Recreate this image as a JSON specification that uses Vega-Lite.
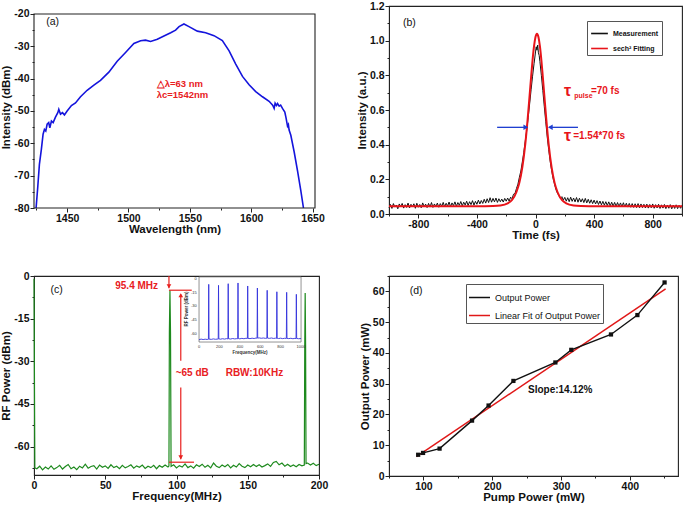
{
  "$schema": "https://vega.github.io/schema/vega-lite/v6.json",
  "background": "white",
  "padding": {"left": 0, "top": 0, "right": 0, "bottom": 0},
  "columns": 2,
  "spacing": {"row": 28, "column": 26},
  "resolve": {"scale": {"color": "independent"}, "legend": {"color": "independent"}},
  "config": {
    "font": "Liberation Sans",
    "view": {"stroke": "#222", "strokeWidth": 1.1},
    "axis": {"labelFont": "Liberation Sans", "labelFontWeight": "bold", "labelFontSize": 10.5, "labelColor": "#111", "titleFont": "Liberation Sans", "titleFontWeight": "bold", "titleFontSize": 11.5, "titleColor": "#111", "domainColor": "#222", "tickColor": "#222", "grid": false, "labelPadding": 1, "titlePadding": 2, "labelOverlap": false, "labelFlush": false, "labelBound": false, "tickCount": 100},
    "axisX": {"titlePadding": 0},
    "text": {"font": "Liberation Sans"}
  },
  "concat": [
    {
      "width": 281, "height": 202,
      "view": {"stroke": null},
      "layer": [
        {
          "data": {"values": [
            {"w":1424.7,"p":-80},{"w":1426,"p":-73.8},{"w":1427.4,"p":-66.5},{"w":1429,"p":-61.9},{"w":1430.4,"p":-57.2},{"w":1431.5,"p":-55.7},{"w":1432.6,"p":-56.2},{"w":1433.7,"p":-54.1},{"w":1435,"p":-53.6},{"w":1435.9,"p":-55.2},{"w":1437.2,"p":-53.1},{"w":1438.6,"p":-53.6},{"w":1440.5,"p":-51.9},{"w":1442.4,"p":-50.5},{"w":1443.2,"p":-49.5},{"w":1444.6,"p":-51},{"w":1446.2,"p":-50.5},{"w":1447.8,"p":-51.2},{"w":1450,"p":-50},{"w":1453.5,"p":-48.3},{"w":1456.8,"p":-47.5},{"w":1460.9,"p":-45.6},{"w":1466.3,"p":-43.6},{"w":1471.8,"p":-42},{"w":1477.2,"p":-40.5},{"w":1484,"p":-38},{"w":1490.8,"p":-34.6},{"w":1497.6,"p":-31.9},{"w":1504.4,"p":-29.1},{"w":1509.9,"p":-28.3},{"w":1513.9,"p":-28.1},{"w":1518,"p":-28.5},{"w":1523.5,"p":-27.8},{"w":1528.9,"p":-26.8},{"w":1534.4,"p":-25.8},{"w":1538.4,"p":-25},{"w":1541.2,"p":-23.9},{"w":1545.2,"p":-23.1},{"w":1549.3,"p":-23.9},{"w":1556.1,"p":-25.3},{"w":1562.9,"p":-25.8},{"w":1569.7,"p":-26.7},{"w":1576.5,"p":-28.2},{"w":1582,"p":-31.4},{"w":1587.4,"p":-35.5},{"w":1592.9,"p":-39.3},{"w":1598.3,"p":-41.9},{"w":1603.7,"p":-44},{"w":1609.2,"p":-45.6},{"w":1614.6,"p":-47},{"w":1617.5,"p":-48.2},{"w":1618.7,"p":-49.2},{"w":1619.5,"p":-47.6},{"w":1620.6,"p":-48.3},{"w":1621.5,"p":-47.7},{"w":1622.8,"p":-48.5},{"w":1624,"p":-48.2},{"w":1625.5,"p":-49.2},{"w":1627.4,"p":-50.3},{"w":1628.4,"p":-52.1},{"w":1629.6,"p":-54.7},{"w":1630.3,"p":-54.2},{"w":1630.9,"p":-55.9},{"w":1632.3,"p":-57.5},{"w":1635,"p":-62.6},{"w":1637.8,"p":-68.6},{"w":1640.5,"p":-74.8},{"w":1642.6,"p":-80}
          ]},
          "mark": {"type": "line", "color": "#1414dc", "strokeWidth": 1.6},
          "encoding": {
            "x": {"field": "w", "type": "quantitative", "scale": {"domain": [1423, 1652], "nice": false, "zero": false},
              "axis": {"title": "Wavelength (nm)", "domain": false, "tickCount": 100, "labelOverlap": false, "values": [1425,1450,1475,1500,1525,1550,1575,1600,1625,1650], "format": "d", "labelExpr": "datum.value % 50 === 0 ? datum.label : ''", "tickSize": {"condition": {"test": "datum.value % 50 === 0", "value": 4}, "value": 2}}},
            "y": {"field": "p", "type": "quantitative", "scale": {"domain": [-80, -17.53], "nice": false, "zero": false},
              "axis": {"title": "Intensity (dBm)", "domain": false, "tickCount": 100, "labelOverlap": false, "values": [-80,-75,-70,-65,-60,-55,-50,-45,-40,-35,-30,-25,-20], "format": "d", "labelExpr": "datum.value % 10 === 0 ? replace(datum.label, '\u2212', '-') : ''", "tickSize": {"condition": {"test": "datum.value % 10 === 0", "value": 4}, "value": 2}}}
          }
        },
        {
          "data": {"values": [{"w":1523,"p":-41.5,"t":"△λ=63 nm"},{"w":1523,"p":-45.2,"t":"λc=1542nm"}]},
          "mark": {"type": "text", "align": "left", "baseline": "middle", "color": "#e8201e", "fontWeight": "bold", "fontSize": 9.5},
          "encoding": {"x": {"field": "w", "type": "quantitative"}, "y": {"field": "p", "type": "quantitative"}, "text": {"field": "t"}}
        },
        {
          "data": {"values": [{"w":1433,"p":-22.6,"t":"(a)"}]},
          "mark": {"type": "text", "align": "left", "baseline": "middle", "color": "#111", "fontSize": 10.5},
          "encoding": {"x": {"field": "w", "type": "quantitative"}, "y": {"field": "p", "type": "quantitative"}, "text": {"field": "t"}}
        },
        {
          "data": {"values": [{"x1":1423,"x2":1652,"y1":-80,"y2":-20}]},
          "mark": {"type": "rect", "fill": "transparent", "stroke": "#222", "strokeWidth": 1.1},
          "encoding": {"x": {"field": "x1", "type": "quantitative"}, "x2": {"field": "x2"}, "y": {"field": "y1", "type": "quantitative"}, "y2": {"field": "y2"}}
        }
      ]
    },
    {
      "width": 293, "height": 208,
      "layer": [
        {
          "data": {"values": [
            {"t":-1000,"v":0.036},{"t":-990,"v":0.055},{"t":-980,"v":0.032},{"t":-970,"v":0.06},{"t":-960,"v":0.04},{"t":-950,"v":0.052},{"t":-940,"v":0.03},{"t":-930,"v":0.058},{"t":-920,"v":0.042},{"t":-910,"v":0.061},{"t":-900,"v":0.034},{"t":-890,"v":0.054},{"t":-880,"v":0.038},{"t":-870,"v":0.063},{"t":-860,"v":0.035},{"t":-850,"v":0.056},{"t":-840,"v":0.041},{"t":-830,"v":0.059},{"t":-820,"v":0.033},{"t":-810,"v":0.062},{"t":-800,"v":0.039},{"t":-790,"v":0.055},{"t":-780,"v":0.036},{"t":-770,"v":0.064},{"t":-760,"v":0.042},{"t":-750,"v":0.057},{"t":-740,"v":0.037},{"t":-730,"v":0.061},{"t":-720,"v":0.04},{"t":-710,"v":0.066},{"t":-700,"v":0.038},{"t":-690,"v":0.058},{"t":-680,"v":0.043},{"t":-670,"v":0.063},{"t":-660,"v":0.039},{"t":-650,"v":0.06},{"t":-640,"v":0.045},{"t":-630,"v":0.067},{"t":-620,"v":0.041},{"t":-610,"v":0.062},{"t":-600,"v":0.046},{"t":-590,"v":0.069},{"t":-580,"v":0.043},{"t":-570,"v":0.064},{"t":-560,"v":0.048},{"t":-550,"v":0.07},{"t":-540,"v":0.045},{"t":-530,"v":0.066},{"t":-520,"v":0.05},{"t":-510,"v":0.072},{"t":-500,"v":0.047},{"t":-490,"v":0.068},{"t":-480,"v":0.052},{"t":-470,"v":0.074},{"t":-460,"v":0.049},{"t":-450,"v":0.071},{"t":-440,"v":0.054},{"t":-430,"v":0.077},{"t":-420,"v":0.051},{"t":-410,"v":0.073},{"t":-400,"v":0.056},{"t":-390,"v":0.08},{"t":-380,"v":0.058},{"t":-370,"v":0.078},{"t":-360,"v":0.061},{"t":-350,"v":0.085},{"t":-340,"v":0.063},{"t":-330,"v":0.088},{"t":-320,"v":0.066},{"t":-310,"v":0.094},{"t":-300,"v":0.068},{"t":-290,"v":0.09},{"t":-280,"v":0.07},{"t":-270,"v":0.092},{"t":-260,"v":0.067},{"t":-250,"v":0.088},{"t":-240,"v":0.071},{"t":-230,"v":0.086},{"t":-220,"v":0.069},{"t":-210,"v":0.09},{"t":-200,"v":0.074},
            {"t":-190,"v":0.092},{"t":-180,"v":0.074},{"t":-170,"v":0.097},{"t":-160,"v":0.088},{"t":-150,"v":0.114},{"t":-140,"v":0.118},{"t":-130,"v":0.147},{"t":-120,"v":0.172},{"t":-110,"v":0.212},{"t":-100,"v":0.248},{"t":-90,"v":0.3},{"t":-80,"v":0.355},{"t":-70,"v":0.42},{"t":-60,"v":0.482},{"t":-50,"v":0.557},{"t":-40,"v":0.635},{"t":-30,"v":0.717},{"t":-20,"v":0.795},{"t":-10,"v":0.867},{"t":-5,"v":0.9},{"t":0,"v":0.935},{"t":5,"v":0.965},{"t":10,"v":0.945},{"t":15,"v":0.975},{"t":20,"v":0.93},{"t":25,"v":0.915},{"t":30,"v":0.88},{"t":40,"v":0.8},{"t":50,"v":0.712},{"t":60,"v":0.62},{"t":70,"v":0.532},{"t":80,"v":0.445},{"t":90,"v":0.372},{"t":100,"v":0.305},{"t":110,"v":0.252},{"t":120,"v":0.205},{"t":130,"v":0.172},{"t":140,"v":0.14},{"t":150,"v":0.12},{"t":160,"v":0.106},{"t":170,"v":0.09},{"t":180,"v":0.1},{"t":190,"v":0.08},
            {"t":200,"v":0.096},{"t":210,"v":0.074},{"t":220,"v":0.094},{"t":230,"v":0.071},{"t":240,"v":0.097},{"t":250,"v":0.073},{"t":260,"v":0.092},{"t":270,"v":0.07},{"t":280,"v":0.095},{"t":290,"v":0.068},{"t":300,"v":0.091},{"t":310,"v":0.069},{"t":320,"v":0.088},{"t":330,"v":0.066},{"t":340,"v":0.09},{"t":350,"v":0.064},{"t":360,"v":0.085},{"t":370,"v":0.062},{"t":380,"v":0.082},{"t":390,"v":0.06},{"t":400,"v":0.08},{"t":410,"v":0.058},{"t":420,"v":0.077},{"t":430,"v":0.055},{"t":440,"v":0.075},{"t":450,"v":0.053},{"t":460,"v":0.073},{"t":470,"v":0.051},{"t":480,"v":0.071},{"t":490,"v":0.049},{"t":500,"v":0.07},{"t":510,"v":0.047},{"t":520,"v":0.068},{"t":530,"v":0.046},{"t":540,"v":0.067},{"t":550,"v":0.044},{"t":560,"v":0.066},{"t":570,"v":0.043},{"t":580,"v":0.064},{"t":590,"v":0.042},{"t":600,"v":0.065},{"t":610,"v":0.041},{"t":620,"v":0.062},{"t":630,"v":0.04},{"t":640,"v":0.061},{"t":650,"v":0.039},{"t":660,"v":0.06},{"t":670,"v":0.038},{"t":680,"v":0.059},{"t":690,"v":0.037},{"t":700,"v":0.06},{"t":710,"v":0.036},{"t":720,"v":0.058},{"t":730,"v":0.037},{"t":740,"v":0.056},{"t":750,"v":0.035},{"t":760,"v":0.057},{"t":770,"v":0.034},{"t":780,"v":0.055},{"t":790,"v":0.036},{"t":800,"v":0.058},{"t":810,"v":0.033},{"t":820,"v":0.054},{"t":830,"v":0.035},{"t":840,"v":0.056},{"t":850,"v":0.032},{"t":860,"v":0.053},{"t":870,"v":0.034},{"t":880,"v":0.055},{"t":890,"v":0.031},{"t":900,"v":0.052},{"t":910,"v":0.033},{"t":920,"v":0.054},{"t":930,"v":0.03},{"t":940,"v":0.051},{"t":950,"v":0.032},{"t":960,"v":0.053},{"t":970,"v":0.031},{"t":980,"v":0.05},{"t":990,"v":0.033},{"t":1000,"v":0.049}
          ]},
          "mark": {"type": "line", "strokeWidth": 1},
          "encoding": {
            "x": {"field": "t", "type": "quantitative", "scale": {"domain": [-1000, 1000], "nice": false, "zero": false},
              "axis": {"title": "Time (fs)", "tickCount": 100, "labelOverlap": false, "values": [-1000,-800,-600,-400,-200,0,200,400,600,800,1000], "format": "d", "labelExpr": "datum.value % 400 === 0 ? replace(datum.label, '\u2212', '-') : ''", "tickSize": {"condition": {"test": "datum.value % 400 === 0", "value": 4}, "value": 2}}},
            "y": {"field": "v", "type": "quantitative", "scale": {"domain": [0, 1.2], "nice": false, "zero": false},
              "axis": {"title": "Intensity (a.u.)", "tickCount": 100, "labelOverlap": false, "values": [0,0.1,0.2,0.3,0.4,0.5,0.6,0.7,0.8,0.9,1.0,1.1,1.2], "format": ".1f", "labelExpr": "round(datum.value*10) % 2 === 0 ? datum.label : ''", "tickSize": {"condition": {"test": "round(datum.value*10) % 2 === 0", "value": 4}, "value": 2}}},
            "color": {"datum": "Measurement", "type": "nominal", "scale": {"domain": ["Measurement", "sech² Fitting"], "range": ["#111111", "#e8141a"]},
              "legend": {"orient": "none", "legendX": 198, "legendY": 15, "title": null, "symbolType": "stroke", "symbolStrokeWidth": 1.6, "symbolSize": 280, "labelFontSize": 7, "labelFontWeight": "bold", "labelFont": "Liberation Sans", "labelColor": "#111", "strokeColor": "#555", "fillColor": "white", "padding": 3, "rowPadding": 2}}
          }
        },
        {
          "data": {"values": [
            {"t":-1000,"v":0.045},{"t":-400,"v":0.045},{"t":-290,"v":0.046},{"t":-240,"v":0.049},{"t":-190,"v":0.061},{"t":-160,"v":0.081},{"t":-130,"v":0.127},{"t":-110,"v":0.181},{"t":-90,"v":0.269},{"t":-70,"v":0.401},{"t":-54,"v":0.543},{"t":-40,"v":0.686},{"t":-30,"v":0.79},{"t":-20,"v":0.888},{"t":-10,"v":0.968},{"t":0,"v":1.021},{"t":10,"v":1.04},{"t":20,"v":1.021},{"t":30,"v":0.968},{"t":40,"v":0.888},{"t":50,"v":0.79},{"t":60,"v":0.686},{"t":74,"v":0.543},{"t":90,"v":0.401},{"t":110,"v":0.269},{"t":130,"v":0.181},{"t":150,"v":0.127},{"t":180,"v":0.081},{"t":210,"v":0.061},{"t":260,"v":0.049},{"t":310,"v":0.046},{"t":420,"v":0.045},{"t":1000,"v":0.045}
          ]},
          "mark": {"type": "line", "strokeWidth": 2, "interpolate": "monotone"},
          "encoding": {
            "x": {"field": "t", "type": "quantitative"},
            "y": {"field": "v", "type": "quantitative"},
            "color": {"datum": "sech² Fitting", "type": "nominal"}
          }
        },
        {
          "data": {"values": [{"t1":-262,"t2":-60,"v":0.5},{"t1":290,"t2":95,"v":0.5}]},
          "mark": {"type": "rule", "color": "#1f3fd0", "strokeWidth": 1.3},
          "encoding": {"x": {"field": "t1", "type": "quantitative"}, "x2": {"field": "t2"}, "y": {"field": "v", "type": "quantitative"}}
        },
        {
          "data": {"values": [{"t":-66,"v":0.5}]},
          "mark": {"type": "point", "shape": "triangle-right", "filled": true, "color": "#1f3fd0", "size": 30, "opacity": 1},
          "encoding": {"x": {"field": "t", "type": "quantitative"}, "y": {"field": "v", "type": "quantitative"}}
        },
        {
          "data": {"values": [{"t":101,"v":0.5}]},
          "mark": {"type": "point", "shape": "triangle-left", "filled": true, "color": "#1f3fd0", "size": 30, "opacity": 1},
          "encoding": {"x": {"field": "t", "type": "quantitative"}, "y": {"field": "v", "type": "quantitative"}}
        },
        {
          "data": {"values": [{"t":195,"v":0.712,"s":"τ"},{"t":195,"v":0.452,"s":"τ"}]},
          "mark": {"type": "text", "align": "left", "baseline": "middle", "color": "#e8141a", "fontWeight": "bold", "fontSize": 16},
          "encoding": {"x": {"field": "t", "type": "quantitative"}, "y": {"field": "v", "type": "quantitative"}, "text": {"field": "s"}}
        },
        {
          "data": {"values": [{"t":265,"v":0.683,"s":"pulse"}]},
          "mark": {"type": "text", "align": "left", "baseline": "middle", "color": "#e8141a", "fontWeight": "bold", "fontSize": 7},
          "encoding": {"x": {"field": "t", "type": "quantitative"}, "y": {"field": "v", "type": "quantitative"}, "text": {"field": "s"}}
        },
        {
          "data": {"values": [{"t":378,"v":0.708,"s":"=70 fs"},{"t":257,"v":0.45,"s":"=1.54*70 fs"}]},
          "mark": {"type": "text", "align": "left", "baseline": "middle", "color": "#e8141a", "fontWeight": "bold", "fontSize": 10},
          "encoding": {"x": {"field": "t", "type": "quantitative"}, "y": {"field": "v", "type": "quantitative"}, "text": {"field": "s"}}
        },
        {
          "data": {"values": [{"t":-905,"v":1.1,"s":"(b)"}]},
          "mark": {"type": "text", "align": "left", "baseline": "middle", "color": "#111", "fontSize": 10.5},
          "encoding": {"x": {"field": "t", "type": "quantitative"}, "y": {"field": "v", "type": "quantitative"}, "text": {"field": "s"}}
        }
      ]
    },
    {
      "width": 285, "height": 199,
      "layer": [
        {
          "layer": [
            {
              "data": {"values": [
                {"f":0,"v":-1},{"f":0.6,"v":-67.5},{"f":2,"v":-67.8},{"f":4,"v":-66.9},{"f":6,"v":-68.2},{"f":8,"v":-67.2},{"f":10,"v":-67.9},{"f":12,"v":-66.8},{"f":14,"v":-68},{"f":16,"v":-67.4},{"f":18,"v":-66.6},{"f":20,"v":-67.9},{"f":22,"v":-67},{"f":24,"v":-66.3},{"f":26,"v":-67.8},{"f":28,"v":-67.2},{"f":30,"v":-68.1},{"f":32,"v":-66.9},{"f":34,"v":-67.5},{"f":36,"v":-66.2},{"f":38,"v":-67.6},{"f":40,"v":-67},{"f":42,"v":-66.7},{"f":44,"v":-67.9},{"f":46,"v":-66.5},{"f":48,"v":-67.3},{"f":50,"v":-66.8},{"f":52,"v":-67.7},{"f":54,"v":-66.4},{"f":56,"v":-67.4},{"f":58,"v":-66.9},{"f":60,"v":-67.8},{"f":62,"v":-66.6},{"f":64,"v":-67.5},{"f":66,"v":-67},{"f":68,"v":-66.4},{"f":70,"v":-67.6},{"f":72,"v":-66.8},{"f":74,"v":-67.3},{"f":76,"v":-66.5},{"f":78,"v":-67.7},{"f":80,"v":-66.9},{"f":82,"v":-67.4},{"f":84,"v":-66.6},{"f":86,"v":-67.8},{"f":88,"v":-66.7},{"f":90,"v":-67.3},{"f":92,"v":-66.5},{"f":94,"v":-67.2},{"f":94.7,"v":-66.8},{"f":95,"v":-20},{"f":95.4,"v":-5},{"f":95.8,"v":-20},{"f":96.2,"v":-67},{"f":98,"v":-66.4},{"f":100,"v":-67.5},{"f":102,"v":-66.7},{"f":104,"v":-67.2},{"f":106,"v":-66.1},{"f":108,"v":-67.4},{"f":110,"v":-66.8},{"f":112,"v":-67.6},{"f":114,"v":-66.4},{"f":116,"v":-67},{"f":118,"v":-66.2},{"f":120,"v":-67.3},{"f":122,"v":-66.6},{"f":124,"v":-67.5},{"f":126,"v":-65.8},{"f":128,"v":-66.9},{"f":130,"v":-67.4},{"f":132,"v":-66.5},{"f":134,"v":-67.1},{"f":136,"v":-66.3},{"f":138,"v":-67.5},{"f":140,"v":-66.6},{"f":142,"v":-67.2},{"f":144,"v":-66},{"f":146,"v":-66.9},{"f":148,"v":-67.4},{"f":150,"v":-66.5},{"f":152,"v":-67.1},{"f":154,"v":-66.3},{"f":156,"v":-67},{"f":158,"v":-66.4},{"f":160,"v":-67.2},{"f":162,"v":-66.7},{"f":164,"v":-66.1},{"f":166,"v":-67},{"f":168,"v":-65.6},{"f":170,"v":-65.2},{"f":172,"v":-66.4},{"f":174,"v":-65.8},{"f":176,"v":-66.9},{"f":178,"v":-66.2},{"f":180,"v":-67},{"f":182,"v":-66.5},{"f":184,"v":-67.1},{"f":186,"v":-66.3},{"f":188,"v":-66.8},{"f":189.7,"v":-66.5},{"f":190,"v":-25},{"f":190.3,"v":-6},{"f":190.6,"v":-25},{"f":190.9,"v":-66},{"f":192,"v":-65.8},{"f":194,"v":-66.5},{"f":196,"v":-65.9},{"f":198,"v":-66.7},{"f":200,"v":-66.2}
              ]},
              "mark": {"type": "line", "color": "#1e8a1e", "strokeWidth": 1.2},
              "encoding": {
                "x": {"field": "f", "type": "quantitative", "scale": {"domain": [0, 200], "nice": false, "zero": false},
                  "axis": {"title": "Frequency(MHz)", "tickCount": 100, "labelOverlap": false, "values": [0,25,50,75,100,125,150,175,200], "format": "d", "labelExpr": "datum.value % 50 === 0 ? datum.label : ''", "tickSize": {"condition": {"test": "datum.value % 50 === 0", "value": 4}, "value": 2}}},
                "y": {"field": "v", "type": "quantitative", "scale": {"domain": [-70, 0], "nice": false, "zero": false},
                  "axis": {"title": "RF Power (dBm)", "tickCount": 100, "labelOverlap": false, "values": [-67.5,-60,-52.5,-45,-37.5,-30,-22.5,-15,-7.5,0], "format": "d", "labelExpr": "datum.value % 15 === 0 ? replace(datum.label, '\u2212', '-') : ''", "tickSize": {"condition": {"test": "datum.value % 15 === 0", "value": 4}, "value": 2}}}
              }
            },
            {
              "data": {"values": [{"f":94.7,"a":0,"b":-4.3},{"f":103,"a":-6.5,"b":-29.8},{"f":103,"a":-39.2,"b":-64.5}]},
              "mark": {"type": "rule", "color": "#e8201e", "strokeWidth": 1.2},
              "encoding": {"x": {"field": "f", "type": "quantitative"}, "y": {"field": "a", "type": "quantitative"}, "y2": {"field": "b"}}
            },
            {
              "data": {"values": [{"f1":94.7,"f2":110.7,"v":-5},{"f1":94.7,"f2":112.3,"v":-65.5}]},
              "mark": {"type": "rule", "color": "#e8201e", "strokeWidth": 1.2},
              "encoding": {"x": {"field": "f1", "type": "quantitative"}, "x2": {"field": "f2"}, "y": {"field": "v", "type": "quantitative"}}
            },
            {
              "data": {"values": [{"f":94.7,"v":-3.6},{"f":103,"v":-63.8}]},
              "mark": {"type": "point", "shape": "triangle-down", "filled": true, "color": "#e8201e", "size": 22, "opacity": 1},
              "encoding": {"x": {"field": "f", "type": "quantitative"}, "y": {"field": "v", "type": "quantitative"}}
            },
            {
              "data": {"values": [{"f":103,"v":-6.8}]},
              "mark": {"type": "point", "shape": "triangle-up", "filled": true, "color": "#e8201e", "size": 22, "opacity": 1},
              "encoding": {"x": {"field": "f", "type": "quantitative"}, "y": {"field": "v", "type": "quantitative"}}
            },
            {
              "data": {"values": [{"f":57,"v":-3.6,"s":"95.4 MHz"},{"f":99.4,"v":-34.2,"s":"~65 dB"},{"f":134.5,"v":-34.2,"s":"RBW:10KHz"}]},
              "mark": {"type": "text", "align": "left", "baseline": "middle", "color": "#e8201e", "fontWeight": "bold", "fontSize": 10},
              "encoding": {"x": {"field": "f", "type": "quantitative"}, "y": {"field": "v", "type": "quantitative"}, "text": {"field": "s"}}
            },
            {
              "data": {"values": [{"f":11.5,"v":-4.8,"s":"(c)"}]},
              "mark": {"type": "text", "align": "left", "baseline": "middle", "color": "#111", "fontSize": 10.5},
              "encoding": {"x": {"field": "f", "type": "quantitative"}, "y": {"field": "v", "type": "quantitative"}, "text": {"field": "s"}}
            }
          ]
        },
        {
          "layer": [
            {
              "data": {"values": [{"f1":0,"f2":1000,"v1":-69,"v2":2}]},
              "mark": {"type": "rect", "fill": "white", "stroke": "#777", "strokeWidth": 0.8},
              "encoding": {
                "x": {"field": "f1", "type": "quantitative", "scale": {"domain": [-1618, 1176], "nice": false, "zero": false}, "axis": null},
                "x2": {"field": "f2"},
                "y": {"field": "v1", "type": "quantitative", "scale": {"domain": [-214, 3], "nice": false, "zero": false}, "axis": null},
                "y2": {"field": "v2"}
              }
            },
            {
              "data": {"values": [
                {"f":0,"v":-66.5},{"f":20,"v":-65.8},{"f":40,"v":-66.3},{"f":60,"v":-65.9},{"f":80,"v":-66.2},{"f":92,"v":-66},{"f":95,"v":-6.1},{"f":98,"v":-65.8},{"f":120,"v":-66.1},{"f":140,"v":-65.6},{"f":160,"v":-66},{"f":180,"v":-65.8},{"f":188,"v":-65.9},{"f":191,"v":-7.2},{"f":194,"v":-65.5},{"f":210,"v":-65.9},{"f":230,"v":-65.4},{"f":250,"v":-65.8},{"f":270,"v":-65.3},{"f":283,"v":-65.6},{"f":286,"v":-5.4},{"f":289,"v":-65.4},{"f":310,"v":-65.7},{"f":330,"v":-65.2},{"f":350,"v":-65.6},{"f":370,"v":-65.3},{"f":379,"v":-65.4},{"f":382,"v":-4.6},{"f":385,"v":-65.2},{"f":400,"v":-65.5},{"f":420,"v":-65},{"f":440,"v":-65.4},{"f":460,"v":-64.9},{"f":474,"v":-65.1},{"f":477,"v":-7.9},{"f":480,"v":-65},{"f":500,"v":-65.3},{"f":520,"v":-64.8},{"f":540,"v":-65.2},{"f":560,"v":-64.6},{"f":569,"v":-64.9},{"f":572,"v":-10.1},{"f":575,"v":-64.7},{"f":590,"v":-64.5},{"f":610,"v":-64.9},{"f":630,"v":-64.6},{"f":650,"v":-65},{"f":665,"v":-64.8},{"f":668,"v":-12.6},{"f":671,"v":-64.7},{"f":690,"v":-65},{"f":710,"v":-64.6},{"f":730,"v":-65.1},{"f":750,"v":-64.8},{"f":760,"v":-65},{"f":763,"v":-14.2},{"f":766,"v":-64.9},{"f":780,"v":-65.2},{"f":800,"v":-64.8},{"f":820,"v":-65.3},{"f":840,"v":-64.9},{"f":856,"v":-65.1},{"f":859,"v":-14.8},{"f":862,"v":-65},{"f":880,"v":-65.3},{"f":900,"v":-64.9},{"f":920,"v":-65.4},{"f":940,"v":-65},{"f":951,"v":-65.2},{"f":954,"v":-17},{"f":957,"v":-65.1},{"f":975,"v":-65.4},{"f":1000,"v":-65.2}
              ]},
              "mark": {"type": "line", "color": "#3232dc", "strokeWidth": 0.9},
              "encoding": {"x": {"field": "f", "type": "quantitative"}, "y": {"field": "v", "type": "quantitative"}}
            },
            {
              "data": {"values": [{"f":-22,"v":0,"s":"0"},{"f":-22,"v":-15,"s":"-15"},{"f":-22,"v":-30,"s":"-30"},{"f":-22,"v":-45,"s":"-45"},{"f":-22,"v":-60,"s":"-60"}]},
              "mark": {"type": "text", "align": "right", "baseline": "middle", "color": "#333", "fontSize": 4},
              "encoding": {"x": {"field": "f", "type": "quantitative"}, "y": {"field": "v", "type": "quantitative"}, "text": {"field": "s"}}
            },
            {
              "data": {"values": [{"f":0,"v":-74,"s":"0"},{"f":200,"v":-74,"s":"200"},{"f":400,"v":-74,"s":"400"},{"f":600,"v":-74,"s":"600"},{"f":800,"v":-74,"s":"800"},{"f":1000,"v":-74,"s":"1000"}]},
              "mark": {"type": "text", "align": "center", "baseline": "middle", "color": "#333", "fontSize": 4},
              "encoding": {"x": {"field": "f", "type": "quantitative"}, "y": {"field": "v", "type": "quantitative"}, "text": {"field": "s"}}
            },
            {
              "data": {"values": [{"f":500,"v":-80.5,"s":"Frequency(MHz)"}]},
              "mark": {"type": "text", "align": "center", "baseline": "middle", "color": "#333", "fontSize": 4.5, "fontWeight": "bold"},
              "encoding": {"x": {"field": "f", "type": "quantitative"}, "y": {"field": "v", "type": "quantitative"}, "text": {"field": "s"}}
            },
            {
              "data": {"values": [{"f":-120,"v":-33,"s":"RF Power (dBm)"}]},
              "mark": {"type": "text", "align": "center", "baseline": "middle", "color": "#333", "fontSize": 4.5, "fontWeight": "bold", "angle": 270},
              "encoding": {"x": {"field": "f", "type": "quantitative"}, "y": {"field": "v", "type": "quantitative"}, "text": {"field": "s"}}
            }
          ]
        }
      ],
      "resolve": {"scale": {"x": "independent", "y": "independent"}}
    },
    {
      "width": 289, "height": 200,
      "layer": [
        {
          "data": {"values": [{"p":90,"o":6.3},{"p":452,"o":60.8}]},
          "mark": {"type": "line", "strokeWidth": 1.5},
          "encoding": {
            "x": {"field": "p", "type": "quantitative", "scale": {"domain": [50, 470], "nice": false, "zero": false},
              "axis": {"title": "Pump Power (mW)", "tickCount": 100, "labelOverlap": false, "values": [50,100,150,200,250,300,350,400,450], "format": "d", "labelExpr": "datum.value % 100 === 0 ? datum.label : ''", "tickSize": {"condition": {"test": "datum.value % 100 === 0", "value": 4}, "value": 2}}},
            "y": {"field": "o", "type": "quantitative", "scale": {"domain": [0, 65], "nice": false, "zero": false},
              "axis": {"title": "Output Power (mW)", "tickCount": 100, "labelOverlap": false, "values": [0,5,10,15,20,25,30,35,40,45,50,55,60,65], "format": "d", "labelExpr": "datum.value % 10 === 0 ? datum.label : ''", "tickSize": {"condition": {"test": "datum.value % 10 === 0", "value": 4}, "value": 2}}},
            "color": {"datum": "Linear Fit of Output Power", "type": "nominal", "scale": {"domain": ["Output Power", "Linear Fit of Output Power"], "range": ["#111111", "#e01818"]},
              "legend": {"orient": "none", "legendX": 77, "legendY": 8, "title": null, "symbolType": "stroke", "symbolStrokeWidth": 1.5, "symbolSize": 440, "labelFontSize": 9, "labelFont": "Liberation Sans", "labelColor": "#111", "strokeColor": "#555", "fillColor": "white", "padding": 2, "rowPadding": 1}}
          }
        },
        {
          "data": {"values": [{"p":92.4,"o":6.9},{"p":99.5,"o":7.5},{"p":123.5,"o":8.9},{"p":170.7,"o":18},{"p":194.7,"o":22.9},{"p":230.8,"o":30.9},{"p":291.8,"o":36.9},{"p":314.9,"o":41},{"p":372.6,"o":46},{"p":411,"o":52.3},{"p":450.5,"o":62.9}]},
          "layer": [
            {
              "mark": {"type": "line", "strokeWidth": 1.4},
              "encoding": {"x": {"field": "p", "type": "quantitative"}, "y": {"field": "o", "type": "quantitative"}, "color": {"datum": "Output Power", "type": "nominal"}}
            },
            {
              "mark": {"type": "point", "shape": "square", "filled": true, "color": "#111", "size": 18, "opacity": 1},
              "encoding": {"x": {"field": "p", "type": "quantitative"}, "y": {"field": "o", "type": "quantitative"}}
            }
          ]
        },
        {
          "data": {"values": [{"p":80,"o":60.2,"s":"(d)"}]},
          "mark": {"type": "text", "align": "left", "baseline": "middle", "color": "#111", "fontSize": 10.5},
          "encoding": {"x": {"field": "p", "type": "quantitative"}, "y": {"field": "o", "type": "quantitative"}, "text": {"field": "s"}}
        },
        {
          "data": {"values": [{"p":252,"o":28.1,"s":"Slope:14.12%"}]},
          "mark": {"type": "text", "align": "left", "baseline": "middle", "color": "#111", "fontSize": 10, "fontWeight": "bold"},
          "encoding": {"x": {"field": "p", "type": "quantitative"}, "y": {"field": "o", "type": "quantitative"}, "text": {"field": "s"}}
        }
      ]
    }
  ]
}
